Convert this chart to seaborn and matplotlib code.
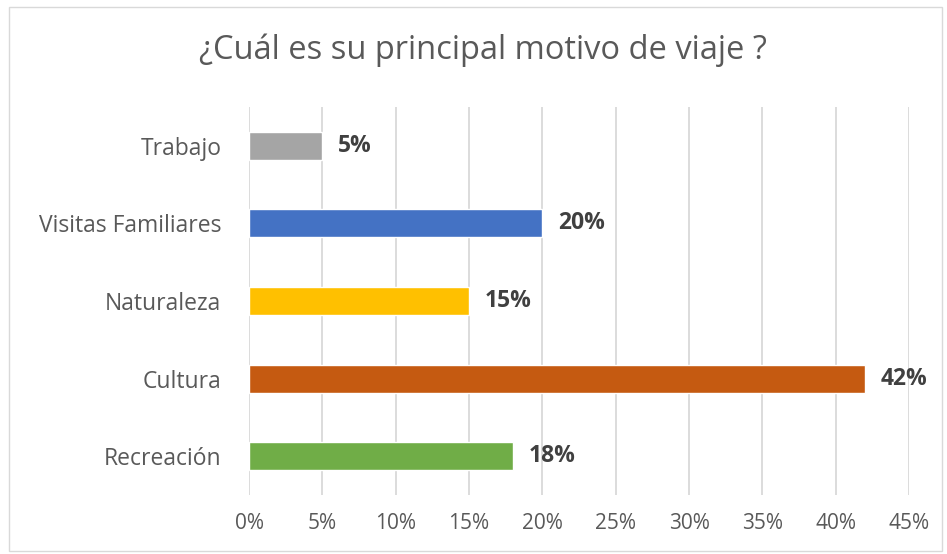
import seaborn as sns
import matplotlib.pyplot as plt
import pandas as pd
from matplotlib.ticker import PercentFormatter
from matplotlib.patches import Rectangle

# Datos
motivos = ["Trabajo", "Visitas Familiares", "Naturaleza", "Cultura", "Recreación"]
porcentajes = [0.05, 0.20, 0.15, 0.42, 0.18]
colores = ["#A5A5A5", "#4472C4", "#FFC000", "#C55A11", "#70AD47"]
etiquetas = ["5%", "20%", "15%", "42%", "18%"]

dados = pd.DataFrame({"motivo": motivos, "pct": porcentajes})

sns.set_theme(style="white")
plt.rcParams['font.family'] = ['Open Sans', 'DejaVu Sans']

fig = plt.figure(figsize=(9.47, 5.54), dpi=100)
ax = fig.add_axes([0.263, 0.1065, 0.697, 0.7005])

sns.barplot(data=dados, y="motivo", x="pct", hue="motivo", palette=colores,
            width=0.36, legend=False, ax=ax, saturation=1, zorder=3)

ax.set_xlim(0, 0.45)
ax.set_xticks([i * 0.05 for i in range(10)])
ax.xaxis.set_major_formatter(PercentFormatter(1.0, decimals=0))
ax.grid(axis="x", color="#D9D9D9", linewidth=1.3, zorder=0)
ax.grid(axis="y", visible=False)
for s in ax.spines.values():
    s.set_visible(False)
ax.set_xlabel("")
ax.set_ylabel("")
ax.tick_params(axis="y", length=0, pad=20, labelsize=16.5, labelcolor="#595959")
ax.tick_params(axis="x", length=0, pad=13, labelsize=15, labelcolor="#595959")

# Etiquetas de datos
for i, (v, t) in enumerate(zip(porcentajes, etiquetas)):
    ax.annotate(t, xy=(v, i), xytext=(11, 0), textcoords="offset points",
                va="center", ha="left", fontsize=16.5, fontweight="bold",
                color="#404040")

fig.text(0.51, 0.91, "¿Cuál es su principal motivo de viaje ?",
         ha="center", va="center", fontsize=23.5, color="#595959")

# Borde del gráfico
fig.patches.append(Rectangle((0.0095, 0.005), 0.985, 0.982,
                             transform=fig.transFigure, fill=False,
                             edgecolor="#D9D9D9", linewidth=1))

plt.savefig("out.png", dpi=100)
plt.close()
